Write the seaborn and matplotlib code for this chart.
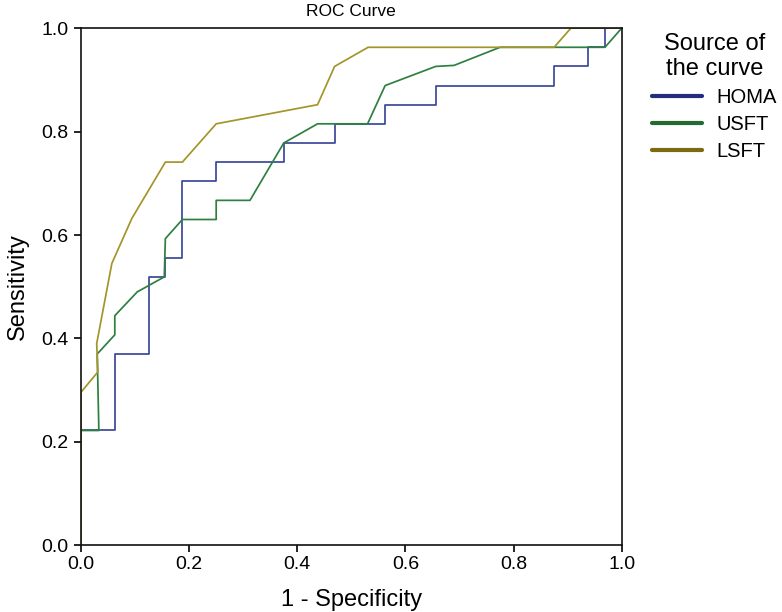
import pandas as pd
import matplotlib
matplotlib.use("Agg")
import matplotlib.pyplot as plt
import seaborn as sns
from matplotlib.lines import Line2D

# ROC points (1 - specificity, sensitivity)
homa_fpr = [0, 0, 0.0625, 0.0625, 0.125, 0.125, 0.156, 0.156, 0.1875, 0.1875, 0.25, 0.25,
            0.375, 0.375, 0.469, 0.469, 0.5625, 0.5625, 0.656, 0.656, 0.875, 0.875,
            0.9375, 0.9375, 0.969, 0.969, 1.0]
homa_tpr = [0, 0.222, 0.222, 0.370, 0.370, 0.519, 0.519, 0.556, 0.556, 0.704, 0.704, 0.741,
            0.741, 0.778, 0.778, 0.815, 0.815, 0.852, 0.852, 0.889, 0.889, 0.926,
            0.926, 0.963, 0.963, 1.0, 1.0]

usft_fpr = [0, 0, 0.033, 0.030, 0.0625, 0.0625, 0.104, 0.154, 0.156, 0.1875, 0.25, 0.25,
            0.3125, 0.375, 0.4375, 0.53, 0.5625, 0.656, 0.69, 0.775, 0.969, 1.0]
usft_tpr = [0, 0.222, 0.222, 0.370, 0.407, 0.444, 0.49, 0.519, 0.593, 0.630, 0.630, 0.667,
            0.667, 0.778, 0.815, 0.815, 0.889, 0.926, 0.928, 0.963, 0.963, 1.0]

lsft_fpr = [0, 0, 0.031, 0.029, 0.057, 0.094, 0.156, 0.1875, 0.25, 0.4375, 0.469, 0.531,
            0.875, 0.906, 1.0]
lsft_tpr = [0, 0.296, 0.335, 0.39, 0.545, 0.632, 0.741, 0.741, 0.815, 0.852, 0.926, 0.963,
            0.963, 1.0, 1.0]

sources = ["HOMA", "USFT", "LSFT"]
tick_labels = ["0.0", "0.2", "0.4", "0.6", "0.8", "1.0"]
line_colors = {"HOMA": "#3c4799", "USFT": "#2e8040", "LSFT": "#a3952a"}
legend_colors = {"HOMA": "#252c7a", "USFT": "#236b33", "LSFT": "#7a6a12"}

frames = []
for name, fx, fy in zip(sources, [homa_fpr, usft_fpr, lsft_fpr], [homa_tpr, usft_tpr, lsft_tpr]):
    frames.append(pd.DataFrame({"fpr": fx, "tpr": fy, "source": name}))
df = pd.concat(frames, ignore_index=True)

sns.set_style("ticks")
plt.rcParams["font.family"] = ["Liberation Sans", "DejaVu Sans"]

fig = plt.figure(figsize=(7.82, 6.12), dpi=100)
ax = fig.add_axes([0.1036, 0.109, 0.6914, 0.845])

sns.lineplot(data=df, x="fpr", y="tpr", hue="source", units="source", sort=False,
             estimator=None, palette=line_colors, linewidth=1.25, legend=False, ax=ax)

ax.set_xlim(0, 1)
ax.set_ylim(0, 1)
ticks = [0, 0.2, 0.4, 0.6, 0.8, 1.0]
ax.set_xticks(ticks)
ax.set_yticks(ticks)
ax.set_xticklabels(tick_labels)
ax.set_yticklabels(tick_labels)
ax.tick_params(axis="both", labelsize=14, length=5, width=1.2, direction="out",
               color="black", labelcolor="black", pad=3)
ax.tick_params(axis="y", pad=4)
for side in ["left", "right", "top", "bottom"]:
    ax.spines[side].set_visible(True)
    ax.spines[side].set_linewidth(1.2)
    ax.spines[side].set_color("#111111")

ax.set_xlabel("1 - Specificity", fontsize=17, labelpad=11, color="black")
ax.set_ylabel("Sensitivity", fontsize=17, labelpad=9, color="black")
ax.set_title("ROC Curve", fontsize=12.5, pad=9, color="black")

handles = [Line2D([0], [0], color=legend_colors[s], lw=3) for s in sources]
leg = fig.legend(handles, sources, title="Source of\nthe curve", loc="upper left",
                 bbox_to_anchor=(0.824, 0.96), frameon=False, fontsize=14.5,
                 title_fontsize=17, handlelength=2.45, handletextpad=0.75,
                 labelspacing=0.4, borderaxespad=0)
leg.get_title().set_multialignment("center")
for t in leg.get_texts():
    t.set_color("black")
leg.get_title().set_color("black")

fig.savefig("out.png", dpi=100)
